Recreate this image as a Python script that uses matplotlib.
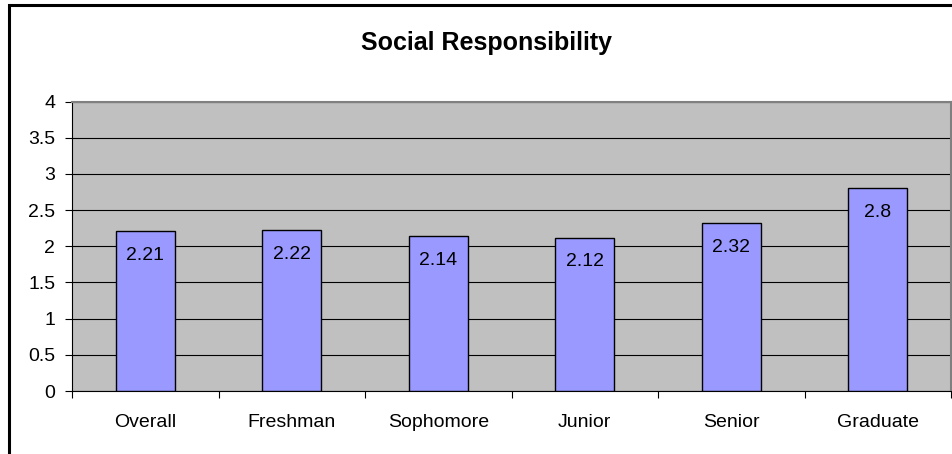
import matplotlib
matplotlib.use("Agg")
import matplotlib.pyplot as plt
from matplotlib.patches import Rectangle
import numpy as np

categories = ["Overall", "Freshman", "Sophomore", "Junior", "Senior", "Graduate"]
values = [2.21, 2.22, 2.14, 2.12, 2.32, 2.8]
yticks = [0, 0.5, 1, 1.5, 2, 2.5, 3, 3.5, 4]

plt.rcParams["font.family"] = ["Liberation Sans", "DejaVu Sans"]

fig = plt.figure(figsize=(9.52, 4.54), dpi=100)
fig.patch.set_facecolor("white")

# chart border (right and bottom edges fall outside the picture)
fig.add_artist(Rectangle((8.5 / 952, -0.1), 1.2, 1.1 - 5.5 / 454,
                         transform=fig.transFigure, fill=False,
                         edgecolor="black", linewidth=2.2))

ax = fig.add_axes([72 / 952, 63 / 454, 879 / 952, 289.5 / 454])
ax.set_facecolor("#C0C0C0")

x = np.arange(len(categories))
ax.bar(x, values, width=0.4, color="#9999FF", edgecolor="black",
       linewidth=1.0, zorder=3)

for xi, v in zip(x, values):
    ax.annotate(f"{v:g}", (xi, v), xytext=(0, -24), textcoords="offset pixels",
                ha="center", va="center", fontsize=14, zorder=4)

ax.set_xlim(-0.5, len(categories) - 0.5)
ax.set_ylim(0, 4)
ax.set_yticks(yticks)
ax.set_yticklabels([f"{t:g}" for t in yticks], fontsize=14)
ax.yaxis.grid(True, color="black", linewidth=0.8, zorder=1)
ax.set_axisbelow(True)

ax.set_xticks(x)
ax.set_xticklabels(categories, fontsize=14)
ax.set_xticks(np.arange(len(categories) + 1) - 0.5, minor=True)
ax.tick_params(axis="x", which="major", length=0, pad=16.5)
ax.tick_params(axis="x", which="minor", length=5, width=0.8, direction="out")
ax.tick_params(axis="y", length=5, width=0.8, direction="out", pad=7)

ax.spines["top"].set_color("#808080")
ax.spines["top"].set_linewidth(1.5)
ax.spines["right"].set_color("#808080")
ax.spines["right"].set_linewidth(1.5)
ax.spines["left"].set_color("black")
ax.spines["bottom"].set_color("black")

fig.text(486.7 / 952, 1 - 43 / 454, "Social Responsibility", ha="center",
         va="center", fontsize=18, fontweight="bold")

fig.savefig("out.png", dpi=100)
